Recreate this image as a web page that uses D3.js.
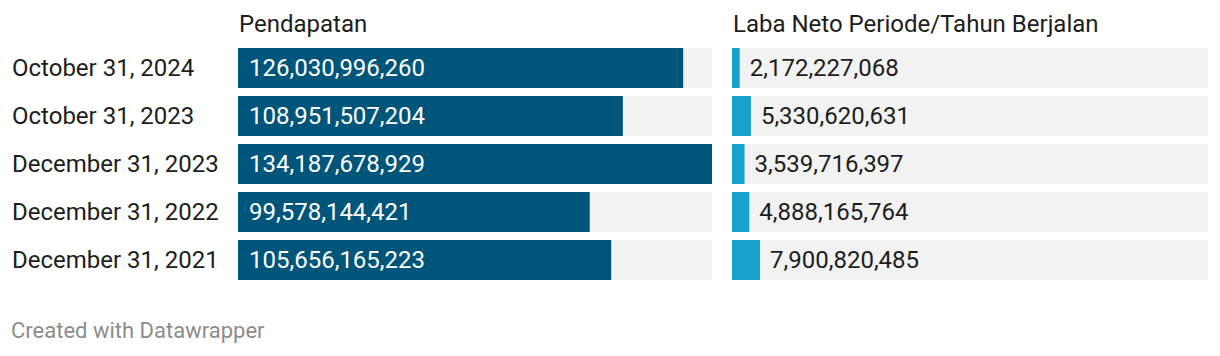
<!DOCTYPE html>
<html>
<head>
<meta charset="utf-8">
<script src="https://cdn.jsdelivr.net/npm/d3@7"></script>
<style>
  html, body { margin: 0; padding: 0; background: #fff; }
  svg { display: block; font-family: Roboto, "Noto Sans", sans-serif; }
</style>
</head>
<body>
<svg id="chart" width="1220" height="356"></svg>
<script>
const categories = ["October 31, 2024", "October 31, 2023", "December 31, 2023", "December 31, 2022", "December 31, 2021"];
const pendapatan = [126030996260, 108951507204, 134187678929, 99578144421, 105656165223];
const labaNeto = [2172227068, 5330620631, 3539716397, 4888165764, 7900820485];
const seriesTitles = ["Pendapatan", "Laba Neto Periode/Tahun Berjalan"];
const footerText = "Created with Datawrapper";

const svg = d3.select("#chart");
const fmt = d3.format(",");
const maxVal = d3.max(pendapatan.concat(labaNeto));

// step 48, bandwidth 40
const y = d3.scaleBand().domain(categories).range([48, 280]).paddingInner(8 / 48).paddingOuter(0);

const panels = [
  { title: seriesTitles[0], values: pendapatan, x0: 238, x1: 712, color: "#00557a", inside: true },
  { title: seriesTitles[1], values: labaNeto, x0: 732, x1: 1208, color: "#18a1cd", inside: false }
];

const FS = 24;

// Row labels
svg.append("g").selectAll("text").data(categories).join("text")
  .attr("x", 12)
  .attr("y", d => y(d) + y.bandwidth() / 2)
  .attr("dy", "0.35em")
  .attr("font-size", FS)
  .attr("fill", "#1d1d1d")
  .text(d => d);

panels.forEach(p => {
  const x = d3.scaleLinear().domain([0, maxVal]).range([p.x0, p.x1]);
  const g = svg.append("g");
  g.append("text")
    .attr("x", p.x0 + 1)
    .attr("y", 32)
    .attr("font-size", FS)
    .attr("fill", "#1d1d1d")
    .text(p.title);
  g.selectAll("rect.bg").data(categories).join("rect")
    .attr("class", "bg")
    .attr("x", p.x0)
    .attr("y", d => y(d))
    .attr("width", p.x1 - p.x0)
    .attr("height", y.bandwidth())
    .attr("fill", "#f2f2f2");
  g.selectAll("rect.bar").data(p.values).join("rect")
    .attr("class", "bar")
    .attr("x", x(0))
    .attr("y", (d, i) => y(categories[i]))
    .attr("width", d => x(d) - x(0))
    .attr("height", y.bandwidth())
    .attr("fill", p.color);
  g.selectAll("text.val").data(p.values).join("text")
    .attr("class", "val")
    .attr("x", d => p.inside ? x(0) + 11 : x(d) + 10)
    .attr("y", (d, i) => y(categories[i]) + y.bandwidth() / 2)
    .attr("dy", "0.35em")
    .attr("font-size", FS)
    .attr("fill", p.inside ? "#ffffff" : "#1d1d1d")
    .text(d => fmt(d));
});

svg.append("text")
  .attr("x", 11)
  .attr("y", 338)
  .attr("font-size", 22)
  .attr("fill", "#8c8c8c")
  .text(footerText);
</script>
</body>
</html>
